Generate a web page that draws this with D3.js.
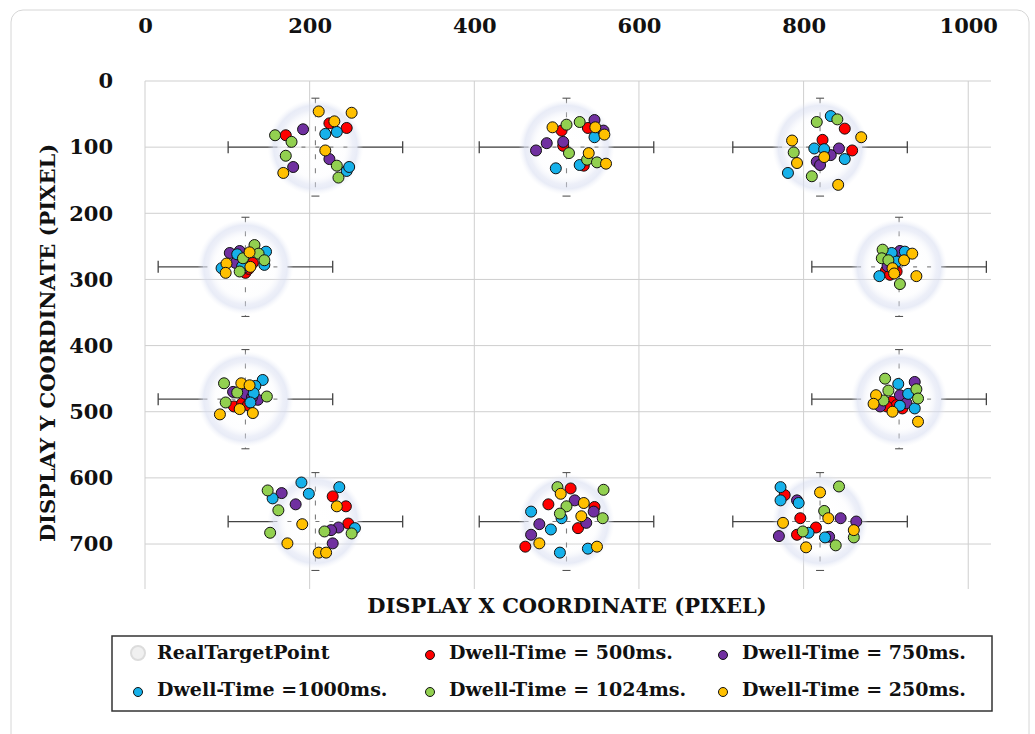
<!DOCTYPE html>
<html lang="en">
<head>
<meta charset="UTF-8">
<title>Dwell-Time gaze points</title>
<script src="https://d3js.org/d3.v7.min.js"></script>
<style>
  body { margin: 0; background: #fff; }
  text { font-family: "DejaVu Serif", serif; font-weight: bold; fill: #111; }
  .grid line { stroke: #cfcfcf; stroke-width: 1; }
</style>
</head>
<body>
<svg id="chart" width="1035" height="734"></svg>
<script>
// target points (screen pixels) and their error bars
const targetX = [207, 512, 820, 122, 916, 122, 916, 207, 512, 820];
const targetY = [100, 100, 100, 281, 281, 481, 481, 666, 666, 666];
const errX = [106, 106, 106, 106, 106, 106, 106, 106, 106, 106];
const errY = [74, 74, 74, 75, 75, 75, 75, 74, 74, 74];

const xTicks = [0, 200, 400, 600, 800, 1000];
const yTicks = [0, 100, 200, 300, 400, 500, 600, 700];

// gaze points per dwell time, grouped by target (T1..T10)
const dwell500 = [
  [224,64],[245,71],[171,82],
  [506,75],[538,71],[508,98],[533,128],
  [850,72],[823,89],[859,105],
  [131,275],[122,290],[126,284],
  [900,287],[913,288],[905,293],
  [108,492],[118,487],[125,490],
  [907,485],[913,490],[920,495],[901,492],
  [228,628],[244,643],[247,669],
  [517,616],[490,640],[546,644],[526,676],[462,704],
  [777,626],[796,661],[815,675],[792,686]
];
const dwell750 = [
  [192,73],[180,130],[224,118],
  [475,105],[488,94],[546,59],[508,92],[557,75],
  [843,102],[833,112],[816,122],[820,127],
  [103,260],[115,257],[110,275],[120,282],
  [917,257],[910,275],[902,280],
  [107,470],[122,473],[137,482],[130,478],
  [935,455],[917,475],[925,487],[893,492],
  [166,623],[183,640],[235,675],[226,679],[228,699],
  [522,634],[545,651],[536,668],[479,670],[469,686],
  [792,634],[845,661],[864,666],[770,688],[831,689]
];
const dwell1000 = [
  [233,77],[219,80],[245,136],[248,130],
  [546,85],[528,127],[499,132],
  [833,53],[813,102],[825,103],[850,118],[781,139],
  [112,262],[147,258],[145,278],[93,283],[118,280],
  [907,260],[923,258],[913,273],[892,295],
  [143,452],[134,461],[132,472],[128,486],
  [915,458],[927,473],[917,491],[935,495],
  [190,607],[155,631],[199,624],[236,614],[255,676],
  [469,651],[506,661],[493,678],[504,713],[538,707],
  [772,614],[772,634],[794,638],[806,683],[826,690]
];
const dwell1024 = [
  [158,82],[178,92],[171,113],[233,128],[235,146],
  [512,66],[528,62],[515,109],[537,119],[549,123],
  [816,62],[841,58],[788,108],[810,144],
  [133,248],[138,261],[119,268],[145,271],[115,288],
  [896,255],[895,268],[903,271],[917,307],
  [96,457],[112,471],[148,477],[98,486],
  [899,450],[937,466],[903,468],[939,480],[897,483],
  [149,619],[162,649],[218,681],[251,684],[152,683],
  [501,614],[557,618],[512,643],[504,654],[556,661],
  [843,613],[825,650],[799,681],[861,690],[839,702]
];
const dwell250 = [
  [211,46],[251,48],[230,61],[219,105],[168,139],
  [495,70],[547,70],[558,81],[539,109],[560,125],
  [870,85],[786,90],[792,124],[842,157],[825,115],
  [127,259],[99,276],[98,290],[128,281],
  [932,261],[922,271],[908,283],[910,291],[937,295],
  [117,457],[127,460],[115,496],[131,502],[91,504],
  [888,475],[885,488],[908,500],[939,515],
  [233,643],[191,670],[173,699],[211,713],[220,713],
  [505,624],[533,638],[530,658],[479,699],[549,704],
  [820,622],[830,661],[775,668],[861,679],[803,705]
];

const seriesNames = ["Dwell-Time = 500ms.", "Dwell-Time = 750ms.", "Dwell-Time =1000ms.",
                     "Dwell-Time = 1024ms.", "Dwell-Time = 250ms."];
const seriesData = [dwell500, dwell750, dwell1000, dwell1024, dwell250];
const seriesColors = ["#ff0000", "#7030a0", "#16b1ea", "#92d050", "#ffc000"];

const svg = d3.select("#chart");

// outer frame
svg.append("rect")
  .attr("x", 11).attr("y", 10).attr("width", 1018).attr("height", 740)
  .attr("rx", 12).attr("fill", "#fff").attr("stroke", "#d6d6d6");

const x = d3.scaleLinear().domain([0, 1024]).range([145, 988]);
const y = d3.scaleLinear().domain([0, 768]).range([81, 589]);

// grid
const grid = svg.append("g").attr("class", "grid");
grid.selectAll(".h").data(yTicks).join("line")
  .attr("x1", x(0)).attr("x2", 991)
  .attr("y1", d => y(d)).attr("y2", d => y(d));
grid.selectAll(".v").data(xTicks).join("line")
  .attr("y1", y(0)).attr("y2", y(768))
  .attr("x1", d => x(d)).attr("x2", d => x(d));

// axes (labels only)
const xAxis = svg.append("g")
  .attr("transform", `translate(0,${y(0)})`)
  .call(d3.axisTop(x).tickValues(xTicks).tickFormat(d3.format("d")).tickSize(0).tickPadding(48));
const yAxis = svg.append("g")
  .attr("transform", `translate(${x(0)},0)`)
  .call(d3.axisLeft(y).tickValues(yTicks).tickFormat(d3.format("d")).tickSize(0).tickPadding(32));
[xAxis, yAxis].forEach(a => {
  a.select(".domain").remove();
  a.selectAll("text").attr("font-size", 21).attr("fill", "#111")
    .attr("font-family", "DejaVu Serif").attr("font-weight", "bold");
});

svg.append("text")
  .attr("x", 567).attr("y", 613).attr("text-anchor", "middle")
  .attr("font-size", 21)
  .text("DISPLAY X COORDINATE (PIXEL)");
svg.append("text")
  .attr("transform", "translate(55,343) rotate(-90)")
  .attr("text-anchor", "middle")
  .attr("font-size", 21)
  .text("DISPLAY Y COORDINATE (PIXEL)");

// halo gradient for the target points
const defs = svg.append("defs");
const grad = defs.append("radialGradient").attr("id", "halo");
[[0, "#ffffff", 0], [0.62, "#f3f5fb", 0.15], [0.78, "#dbe0f2", 0.5],
 [0.87, "#d6dcf0", 0.55], [1, "#eceff8", 0]].forEach(s => {
  grad.append("stop").attr("offset", s[0])
    .attr("stop-color", s[1]).attr("stop-opacity", s[2]);
});

const haloR = 48, inner = 42;
const targets = targetX.map((d, i) => ({ x: targetX[i], y: targetY[i], ex: errX[i], ey: errY[i] }));

// error bars
const eb = svg.append("g");
targets.forEach(t => {
  const cx = x(t.x), cy = y(t.y);
  const l = x(t.x - t.ex), r = x(t.x + t.ex);
  const tp = y(t.y - t.ey), bt = y(t.y + t.ey);
  eb.append("line").attr("x1", l).attr("x2", cx - inner).attr("y1", cy).attr("y2", cy)
    .attr("stroke", "#444").attr("stroke-width", 1.3);
  eb.append("line").attr("x1", cx + inner).attr("x2", r).attr("y1", cy).attr("y2", cy)
    .attr("stroke", "#444").attr("stroke-width", 1.3);
  eb.append("line").attr("x1", cx - inner).attr("x2", cx + inner).attr("y1", cy).attr("y2", cy)
    .attr("stroke", "#777").attr("stroke-width", 1.1).attr("stroke-dasharray", "4,10");
  [l, r].forEach(px => eb.append("line").attr("x1", px).attr("x2", px)
    .attr("y1", cy - 6).attr("y2", cy + 6).attr("stroke", "#444").attr("stroke-width", 1.3));
  eb.append("line").attr("x1", cx).attr("x2", cx).attr("y1", tp).attr("y2", bt)
    .attr("stroke", "#777").attr("stroke-width", 1.1).attr("stroke-dasharray", "5,9");
  [tp, bt].forEach(py => eb.append("line").attr("x1", cx - 4).attr("x2", cx + 4)
    .attr("y1", py).attr("y2", py).attr("stroke", "#555").attr("stroke-width", 1.1));
});

// target halos
svg.append("g").selectAll("circle").data(targets).join("circle")
  .attr("cx", d => x(d.x)).attr("cy", d => y(d.y)).attr("r", haloR)
  .attr("fill", "url(#halo)");

// gaze points
seriesData.forEach((pts, i) => {
  svg.append("g").selectAll("circle").data(pts).join("circle")
    .attr("cx", d => x(d[0])).attr("cy", d => y(d[1])).attr("r", 5.5)
    .attr("fill", seriesColors[i]).attr("stroke", "#111").attr("stroke-width", 1);
});

// legend
const lg = svg.append("g");
lg.append("rect").attr("x", 112).attr("y", 636).attr("width", 880).attr("height", 75)
  .attr("fill", "#fff").attr("stroke", "#333").attr("stroke-width", 1.5);
const legendItems = [{ name: "RealTargetPoint", target: true }]
  .concat(seriesNames.map((n, i) => ({ name: n, color: seriesColors[i] })));
// legend order: row 1 = target, 500, 750; row 2 = 1000, 1024, 250
const colX = [138, 430, 723], rowY = [653, 690];
legendItems.forEach((it, i) => {
  const cx = colX[i % 3], cy = rowY[Math.floor(i / 3)];
  if (it.target) {
    lg.append("circle").attr("cx", cx).attr("cy", cy).attr("r", 7)
      .attr("fill", "#f0f0f0").attr("stroke", "#dcdcdc").attr("stroke-width", 2);
  } else {
    lg.append("circle").attr("cx", cx).attr("cy", cy + 2).attr("r", 4.5)
      .attr("fill", it.color).attr("stroke", "#111").attr("stroke-width", 1);
  }
  lg.append("text").attr("x", cx + 19).attr("y", cy + 6)
    .attr("font-size", 19).text(it.name);
});
</script>
</body>
</html>
